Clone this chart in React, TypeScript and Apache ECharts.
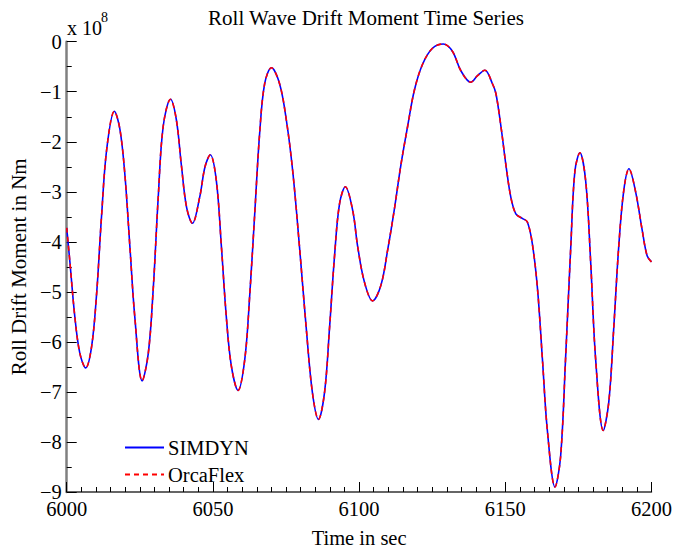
import React, { useEffect, useRef } from "react";
import * as echarts from "echarts";

const times = [
  6000.0, 6001.1, 6002.8, 6004.5, 6006.5, 6008.5, 6010.2, 6011.9, 6013.7, 6016.3,
  6018.2, 6019.9, 6021.6, 6023.3, 6025.8, 6027.9, 6029.6, 6031.3, 6033.0, 6035.5,
  6037.5, 6039.2, 6041.0, 6043.0, 6045.5, 6047.3, 6049.1, 6051.2, 6052.9, 6054.6,
  6056.3, 6058.6, 6060.9, 6062.6, 6064.3, 6066.0, 6067.7, 6070.0, 6072.8, 6075.1,
  6077.3, 6079.6, 6081.9, 6084.0, 6086.1, 6088.2, 6089.9, 6091.6, 6093.3, 6095.3,
  6097.8, 6099.5, 6101.8, 6104.6, 6107.5, 6109.8, 6112.0, 6114.3, 6116.6, 6118.9,
  6121.7, 6125.1, 6128.8, 6131.9, 6134.8, 6138.2, 6140.5, 6143.0, 6145.6, 6146.8,
  6148.5, 6150.2, 6151.9, 6153.6, 6155.8, 6157.5, 6159.2, 6161.0, 6162.7, 6164.4,
  6167.0, 6168.9, 6170.6, 6172.4, 6173.8, 6175.5, 6177.5, 6179.2, 6180.9, 6183.5,
  6185.4, 6187.1, 6188.8, 6190.5, 6192.3, 6194.5, 6196.8, 6198.5, 6200.0,
];

// Roll drift moment, units of 1e8 Nm
const simdynValues = [
  -3.72, -4.41, -5.51, -6.23, -6.52, -6.10, -5.06, -3.50, -2.14, -1.39,
  -1.75, -2.66, -4.09, -5.51, -6.78, -6.23, -4.93, -3.11, -1.69, -1.15,
  -1.56, -2.46, -3.31, -3.63, -3.10, -2.50, -2.26, -2.79, -4.09, -5.51,
  -6.48, -6.97, -6.35, -5.06, -3.44, -1.82, -0.84, -0.52, -0.84, -1.56,
  -2.59, -4.09, -5.71, -7.00, -7.55, -7.00, -5.71, -4.28, -3.24, -2.90,
  -3.37, -4.09, -4.80, -5.18, -4.86, -4.15, -3.37, -2.46, -1.69, -0.97,
  -0.45, -0.13, -0.045, -0.19, -0.58, -0.81, -0.68, -0.57, -0.84, -1.04,
  -1.69, -2.46, -3.11, -3.44, -3.53, -3.60, -4.02, -4.93, -6.35, -7.78,
  -8.90, -8.30, -6.35, -4.09, -2.59, -2.22, -2.79, -4.41, -6.35, -7.77,
  -7.20, -5.71, -4.09, -2.98, -2.54, -2.98, -3.76, -4.28, -4.40,
];

const orcaflexValues = [...simdynValues];

const seriesNames = ["SIMDYN", "OrcaFlex"];
const xTicks = { min: 6000, max: 6200, interval: 50 };
const yTicks = { min: -9, max: 0, interval: 1 };

const FONT = "'Liberation Serif', 'Times New Roman', serif";

export default function App() {
  const ref = useRef<HTMLDivElement>(null);

  useEffect(() => {
    if (!ref.current) return;
    const chart = echarts.init(ref.current, null, { renderer: "svg" });
    const gridLeft = 66.7;
    const gridRight = 22.3;
    const gridTop = 41.7;
    const gridBottom = 49;

    const simData = times.map((t, i) => [t, simdynValues[i]]);
    const orcaData = times.map((t, i) => [t, orcaflexValues[i]]);

    chart.setOption({
      animation: false,
      backgroundColor: "#ffffff",
      title: {
        text: "Roll Wave Drift Moment Time Series",
        left: 361,
        textAlign: "center",
        top: 2,
        textStyle: { fontFamily: FONT, fontSize: 21, fontWeight: "normal", color: "#000" },
      },
      grid: { left: gridLeft, right: gridRight, top: gridTop, bottom: gridBottom, containLabel: false },
      legend: {
        orient: "vertical",
        left: 124,
        top: 437,
        padding: 0,
        itemWidth: 39,
        itemHeight: 14,
        itemGap: 6,
        itemStyle: { opacity: 0 },
        textStyle: { fontFamily: FONT, fontSize: 20.5, color: "#000", lineHeight: 20, padding: [0, 0, 0, -1] },
        data: seriesNames,
      },
      xAxis: {
        type: "value",
        min: xTicks.min,
        max: xTicks.max,
        interval: xTicks.interval,
        name: "Time in sec",
        nameLocation: "middle",
        nameGap: 35,
        nameTextStyle: { fontFamily: FONT, fontSize: 20.5, color: "#000" },
        axisLine: { show: true, onZero: false, lineStyle: { color: "#333", width: 1.5 } },
        axisTick: { show: true, inside: true, length: 10, lineStyle: { color: "#000", width: 1 } },
        minorTick: { show: true, splitNumber: 10, length: 5, lineStyle: { color: "#000", width: 1 } },
        splitLine: { show: false },
        axisLabel: {
          fontFamily: FONT,
          fontSize: 20.5,
          color: "#000",
          margin: 6,
          formatter: (v: number) => String(v),
        },
      },
      yAxis: {
        type: "value",
        min: yTicks.min,
        max: yTicks.max,
        interval: yTicks.interval,
        name: "Roll Drift Moment in Nm",
        nameLocation: "middle",
        nameGap: 36,
        nameRotate: 90,
        nameTextStyle: { fontFamily: FONT, fontSize: 21, color: "#000" },
        axisLine: { show: true, onZero: false, lineStyle: { color: "#808080", width: 2.5 } },
        axisTick: { show: true, inside: true, length: 10, lineStyle: { color: "#000", width: 1 } },
        minorTick: { show: true, splitNumber: 2, length: 5, lineStyle: { color: "#000", width: 1 } },
        splitLine: { show: false },
        axisLabel: {
          fontFamily: FONT,
          fontSize: 20.5,
          color: "#000",
          margin: 5,
          formatter: (v: number) => (v === 0 ? "0" : "\u2212" + Math.abs(v)),
        },
      },
      graphic: [
        {
          type: "text",
          left: 67,
          top: 18,
          style: { text: "x 10", fontFamily: FONT, fontSize: 20, fill: "#000" },
        },
        {
          type: "text",
          left: 101,
          top: 10,
          style: { text: "8", fontFamily: FONT, fontSize: 14, fill: "#000" },
        },
      ],
      series: [
        {
          name: seriesNames[0],
          type: "line",
          data: simData,
          smooth: 0.35,
          showSymbol: false,
          symbol: "none",
          lineStyle: { color: "#0000ff", width: 1.6, type: "solid" },
          itemStyle: { color: "#0000ff" },
          z: 2,
        },
        {
          name: seriesNames[1],
          type: "line",
          data: orcaData,
          smooth: 0.35,
          showSymbol: false,
          symbol: "none",
          lineStyle: { color: "#ff0000", width: 1.6, type: [5, 4] },
          itemStyle: { color: "#ff0000" },
          z: 3,
        },
      ],
    });

    return () => chart.dispose();
  }, []);

  return (
    <div
      ref={ref}
      style={{ position: "absolute", left: 0, top: 0, width: 675, height: 553, background: "#fff" }}
    />
  );
}
